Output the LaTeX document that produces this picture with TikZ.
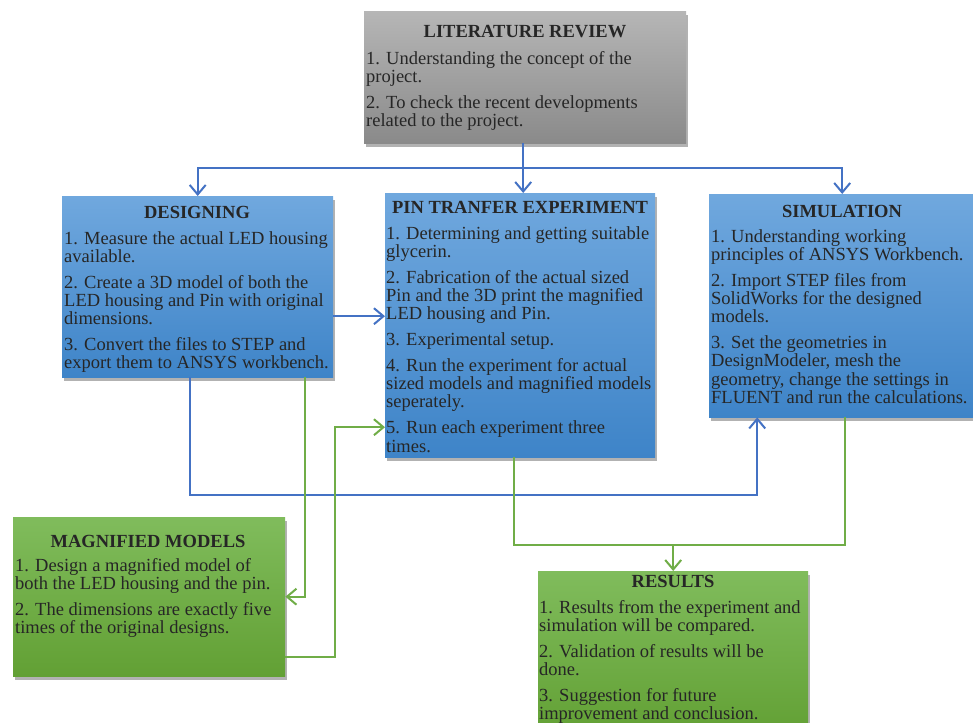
\documentclass[tikz,border=0pt]{standalone}
\usepackage{fontspec}
\setmainfont{Liberation Serif}
\usetikzlibrary{arrows.meta,shadows}
\definecolor{bluetop}{RGB}{112,168,222}
\definecolor{bluebot}{RGB}{62,132,200}
\definecolor{greentop}{RGB}{128,188,92}
\definecolor{greenbot}{RGB}{98,160,52}
\definecolor{graytop}{RGB}{182,182,182}
\definecolor{graybot}{RGB}{138,138,138}
\definecolor{lineblue}{RGB}{68,114,196}
\definecolor{linegreen}{RGB}{112,173,71}
\begin{document}
\begin{tikzpicture}[x=1pt,y=1pt,
  boxbase/.style={anchor=north west, inner sep=0, draw=none,
    drop shadow={shadow xshift=2pt,shadow yshift=-4pt,opacity=0.3,fill=black}},
  bluebox/.style={boxbase, top color=bluetop, bottom color=bluebot},
  greenbox/.style={boxbase, top color=greentop, bottom color=greenbot},
  graybox/.style={boxbase, top color=graytop, bottom color=graybot},
  head/.style={font=\fontsize{18.5}{18.3}\selectfont\bfseries, inner sep=0, text=black!85},
  body/.style={font=\fontsize{18.5}{18.3}\selectfont, align=left, anchor=north west, inner sep=0, text=black!85},
  bline/.style={draw=lineblue, line width=2pt},
  gline/.style={draw=linegreen, line width=2pt},
  tip/.style={-{Straight Barb[length=9.5pt,width=16pt]}}
]
\useasboundingbox (0,0) rectangle (973,-722);
\fill[white] (0,0) rectangle (973,-722);

% boxes
\node[graybox, minimum width=322pt, minimum height=132pt] (lit) at (364,-11) {};
\node[bluebox, minimum width=271pt, minimum height=181pt] (des) at (62,-196) {};
\node[bluebox, minimum width=270pt, minimum height=264pt] (pin) at (385,-193) {};
\node[bluebox, minimum width=266pt, minimum height=223pt] (sim) at (709,-194) {};
\node[greenbox, minimum width=272pt, minimum height=159pt] (mag) at (13,-517) {};
\node[greenbox, minimum width=270pt, minimum height=165pt] (res) at (538,-571) {};

% headings
\node[head] (hlit) at (525,-32) {LITERATURE REVIEW};
\node[head] (hdes) at (197,-212) {DESIGNING};
\node[head] (hpin) at (520,-207) {PIN TRANFER EXPERIMENT};
\node[head] (hsim) at (842,-211) {SIMULATION};
\node[head] (hmag) at (148,-541) {MAGNIFIED MODELS};
\node[head] (hres) at (673,-581) {RESULTS};

% bodies
\node[body] (tlit) at (366,-51) {1. Understanding the concept of the\\project.\\[7.5pt]2. To check the recent developments\\related to the project.};
\node[body] (tdes) at (64,-231) {1. Measure the actual LED housing\\available.\\[7.5pt]2. Create a 3D model of both the\\LED housing and Pin with original\\dimensions.\\[7.5pt]3. Convert the files to STEP and\\export them to ANSYS workbench.};
\node[body] (tpin) at (386,-226) {1. Determining and getting suitable\\glycerin.\\[7.5pt]2. Fabrication of the actual sized\\Pin and the 3D print the magnified\\LED housing and Pin.\\[7.5pt]3. Experimental setup.\\[7.5pt]4. Run the experiment for actual\\sized models and magnified models\\seperately.\\[7.5pt]5. Run each experiment three\\times.};
\node[body] (tsim) at (711,-229) {1. Understanding working\\principles of ANSYS Workbench.\\[7.5pt]2. Import STEP files from\\SolidWorks for the designed\\models.\\[7.5pt]3. Set the geometries in\\DesignModeler, mesh the\\geometry, change the settings in\\FLUENT and run the calculations.};
\node[body] (tmag) at (15,-558) {1. Design a magnified model of\\both the LED housing and the pin.\\[7.5pt]2. The dimensions are exactly five\\times of the original designs.};
\node[body] (tres) at (539,-600) {1. Results from the experiment and\\simulation will be compared.\\[7.5pt]2. Validation of results will be\\done.\\[7.5pt]3. Suggestion for future\\improvement and conclusion.};

% blue connectors
\coordinate (j) at ([xshift=-2pt,yshift=-25pt]lit.south);
\draw[bline,tip] ([xshift=-2pt]lit.south) -- ([xshift=-2pt]lit.south |- pin.north);
\draw[bline,tip] (j) -| (des.north);
\draw[bline,tip] (j) -| (sim.north);
\draw[bline,tip] ([yshift=-29.5pt]des.east) -- ([yshift=-29.5pt]des.east -| pin.west);
\draw[bline,tip] ([xshift=-7.5pt]des.south) -- ++(0,-118) -| ([xshift=-85pt]sim.south);

% green connectors
\draw[gline,tip] ([xshift=107.5pt]des.south) |- (mag.east);
\draw[gline,tip] ([yshift=-60.5pt]mag.east) -- ++(50,0) |- ([yshift=-102pt]pin.west);
\coordinate (gj) at ([xshift=3pt,yshift=-128pt]sim.south);
\draw[gline] ([xshift=-6pt]pin.south) |- (gj) -- ([xshift=3pt]sim.south);
\draw[gline,tip] (gj -| res.north) -- (res.north);
\end{tikzpicture}
\end{document}
